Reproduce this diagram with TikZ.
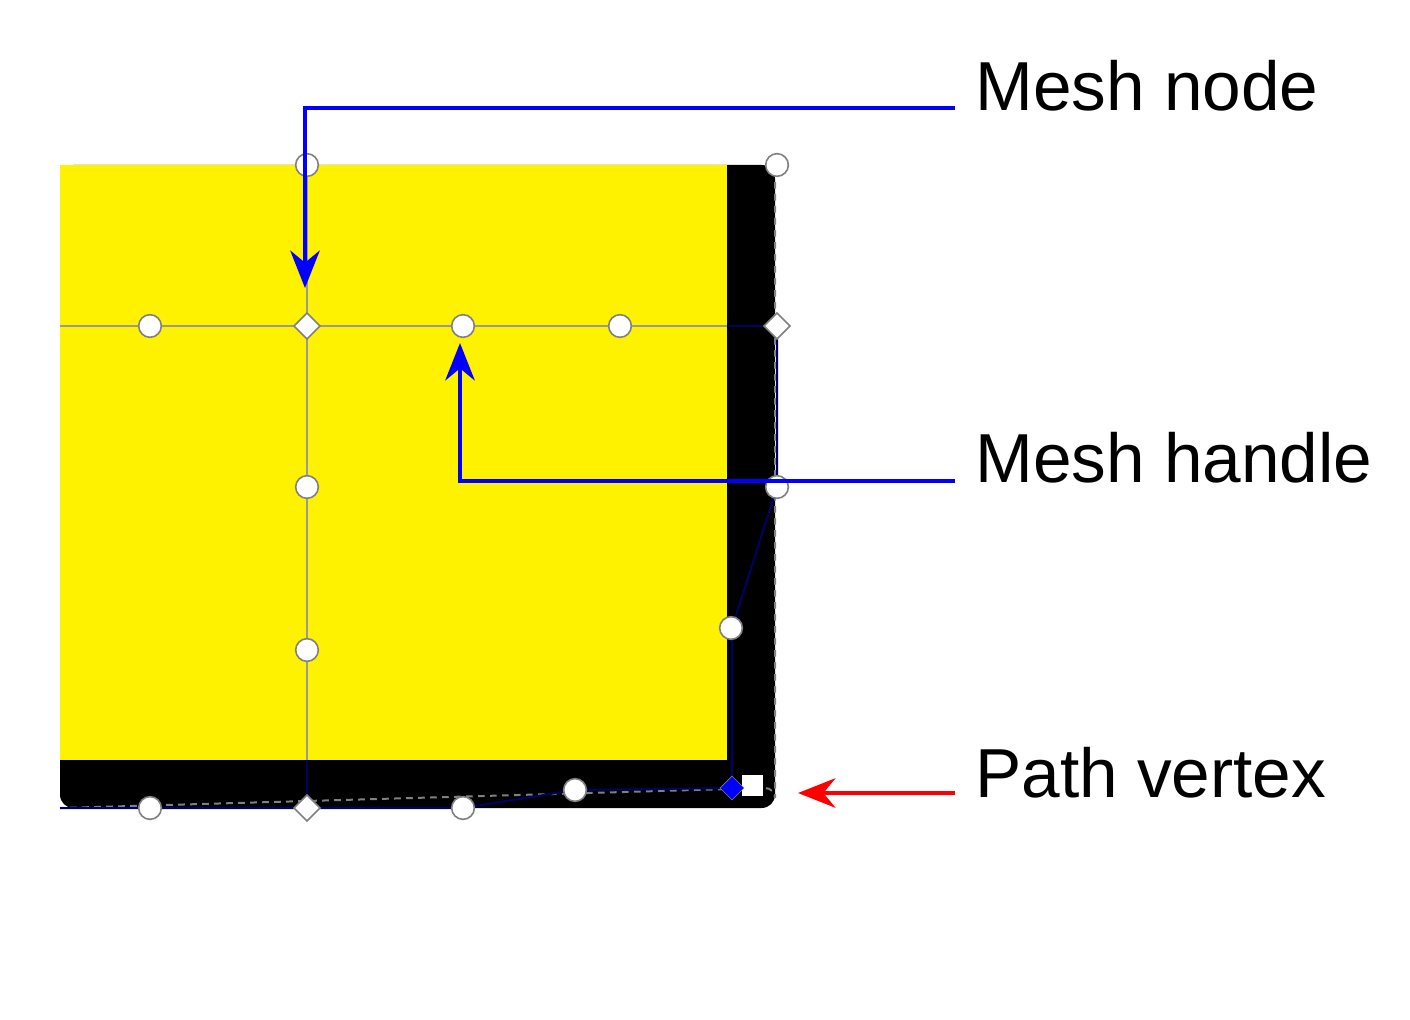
\documentclass[tikz,border=0pt]{standalone}
\usepackage{fontspec}
\setmainfont{Liberation Sans}
\usetikzlibrary{arrows.meta,shapes.geometric}
\begin{document}
\begin{tikzpicture}[x=0.75pt,y=-0.75pt,
 hcirc/.style={circle,draw=gray,fill=white,line width=1.2pt,minimum size=17pt,inner sep=0pt},
 hdia/.style={diamond,draw=gray,fill=white,line width=1.2pt,minimum size=20pt,inner sep=0pt},
 lab/.style={anchor=west,font=\fontsize{52}{60}\selectfont,inner sep=0pt},
 callout/.style={line width=3.5pt,-{Stealth[length=28pt,width=22pt,inset=9pt]}}]
\useasboundingbox (0,0) rectangle (1410,1020);
% black shape
\fill[black,rounded corners=10pt] (60,165) -- (775,165) -- (775,808) -- (60,808) -- cycle;
\draw[gray,dashed,line width=1.5pt,dash pattern=on 5pt off 4pt] (775,170) -- (775,798) arc(0:-90:10) -- (60,808);
\fill[yellow] (60,165) rectangle (727,760);
% mesh lines
\draw[gray!80,line width=2pt] (60,326) -- (727,326);
\draw[gray!80,line width=2pt] (307,165) -- (307,760);
\draw[blue!40!black,line width=1.5pt] (727,326) -- (777,326);
\draw[blue!40!black,line width=1.5pt] (307,760) -- (307,808);
\draw[blue!40!black,line width=1.5pt] (60,808) -- (463,808) -- (575,790) -- (732,788);
\draw[blue!40!black,line width=1.5pt] (777,326) -- (777,487) -- (732,628) -- (732,788);
% handles
\foreach \n/\p in {a/{150,326},b/{463,326},c/{620,326},d/{307,487},e/{307,650},f/{731,628},g/{150,808},h/{463,808},i/{575,790},j/{777,487},k/{307,165},l/{777,165}}
  \node[hcirc] (h\n) at (\p) {};
\foreach \n/\p in {a/{307,326},b/{777,326},c/{307,808}}
  \node[hdia] (d\n) at (\p) {};
\node[draw=white,fill=white,minimum size=15pt,inner sep=0pt] (sq) at (752,785) {};
\node[diamond,draw=gray,fill=blue,minimum size=18pt,inner sep=0pt] (pv) at (732,788) {};
% labels
\node[lab] (t1) at (975,86) {Mesh node};
\node[lab] (t2) at (975,458) {Mesh handle};
\node[lab] (t3) at (975,773) {Path vertex};
\coordinate (c1) at (955,108); \coordinate (c2) at (955,481); \coordinate (c3) at (955,793);
\draw[callout,blue] (c1) -- (305,108) -- (305,288);
\draw[callout,blue] (c2) -- (460,481) -- (460,343);
\draw[callout,red] (c3) -- (798,793);
\end{tikzpicture}
\end{document}
